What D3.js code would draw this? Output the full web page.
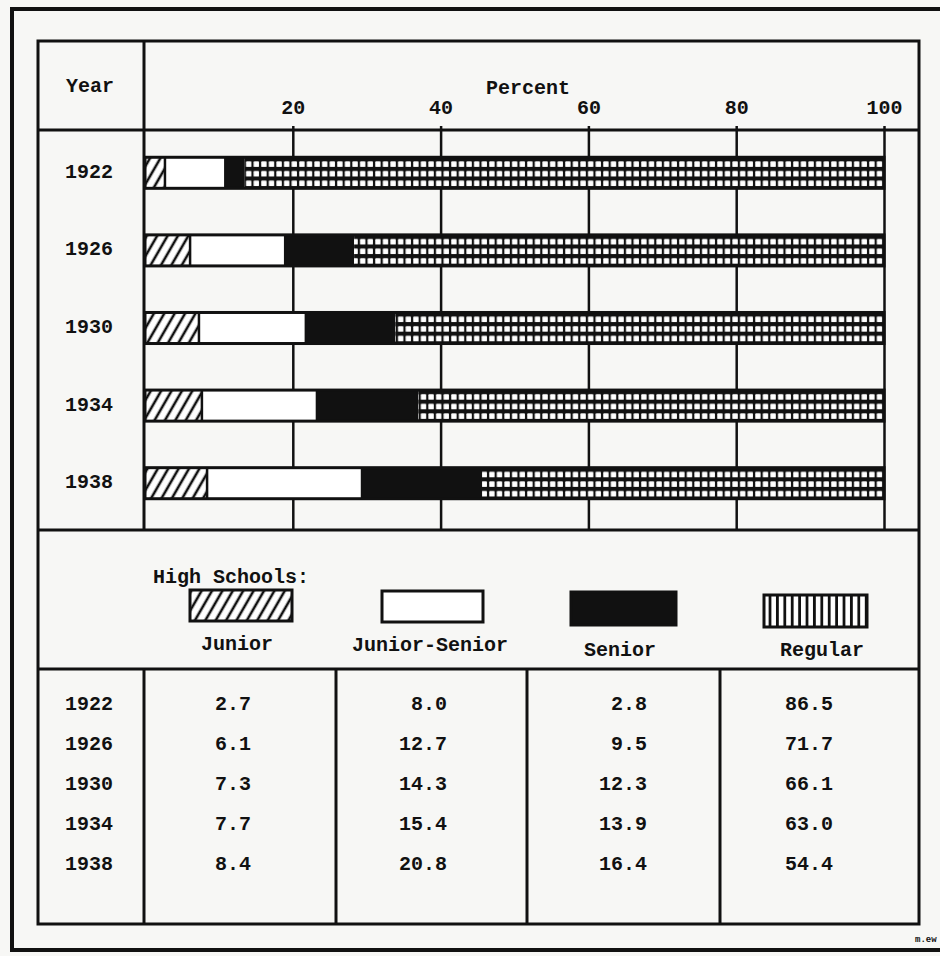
<!DOCTYPE html>
<html><head><meta charset="utf-8">
<script src="https://cdn.jsdelivr.net/npm/d3@7"></script>
<style>
html,body{margin:0;padding:0;background:#f7f7f5;}
svg{display:block;}
text{font-family:"Liberation Mono","DejaVu Sans Mono",monospace;font-weight:bold;fill:#111;}
</style></head><body>
<svg id="c" width="940" height="956"></svg>
<script>
const years = ["1922","1926","1930","1934","1938"];
const categories = ["Junior","Junior-Senior","Senior","Regular"];
const junior = [2.7, 6.1, 7.3, 7.7, 8.4];
const juniorSenior = [8.0, 12.7, 14.3, 15.4, 20.8];
const senior = [2.8, 9.5, 12.3, 13.9, 16.4];
const regular = [86.5, 71.7, 66.1, 63.0, 54.4];
const tickValues = [20, 40, 60, 80, 100];
const tableLabels = [
  ["2.7","8.0","2.8","86.5"],
  ["6.1","12.7","9.5","71.7"],
  ["7.3","14.3","12.3","66.1"],
  ["7.7","15.4","13.9","63.0"],
  ["8.4","20.8","16.4","54.4"]
];

const svg = d3.select("#c");
const ink = "#111";
const FS = 20;
const defs = svg.append("defs");

// hatch pattern (Junior)
const hatch = defs.append("pattern").attr("id","hatch").attr("patternUnits","userSpaceOnUse")
  .attr("width",9).attr("height",9).attr("patternTransform","rotate(30)");
hatch.append("rect").attr("width",9).attr("height",9).attr("fill","#fff");
hatch.append("line").attr("x1",2).attr("x2",2).attr("y1",-1).attr("y2",10).attr("stroke",ink).attr("stroke-width",2.6);

// vertical stripes (legend Regular)
const vs = defs.append("pattern").attr("id","vstripe").attr("patternUnits","userSpaceOnUse")
  .attr("width",7.4).attr("height",10).attr("x",764);
vs.append("rect").attr("width",7.4).attr("height",10).attr("fill","#fff");
vs.append("rect").attr("x",4.6).attr("width",2.8).attr("height",10).attr("fill",ink);

const x = d3.scaleLinear().domain([0,100]).range([145,884]);
const y = d3.scaleBand().domain(years).range([134,522]).paddingInner(0.6).paddingOuter(0.3);

// grid patterns per bar (Regular)
years.forEach(yr=>{
  const p = defs.append("pattern").attr("id","grid"+yr).attr("patternUnits","userSpaceOnUse")
    .attr("width",7.6).attr("height",9.6).attr("x",x(0)+1).attr("y",y(yr));
  p.append("rect").attr("width",7.6).attr("height",9.6).attr("fill",ink);
  p.append("rect").attr("x",1.2).attr("y",4.2).attr("width",5.4).attr("height",5.4).attr("rx",0.8).attr("fill","#fff");
});

// outer border
svg.append("rect").attr("x",12).attr("y",9).attr("width",940).attr("height",941)
  .attr("fill","none").attr("stroke",ink).attr("stroke-width",4);

// inner frame
const L=38, T=41, R=919, B=924;
const colX = 144;
svg.append("rect").attr("x",L).attr("y",T).attr("width",R-L).attr("height",B-T)
  .attr("fill","none").attr("stroke",ink).attr("stroke-width",3);
const hline = (y0)=>svg.append("line").attr("x1",L).attr("x2",R).attr("y1",y0).attr("y2",y0).attr("stroke",ink).attr("stroke-width",3);
hline(130); hline(530); hline(669);
svg.append("line").attr("x1",colX).attr("x2",colX).attr("y1",T).attr("y2",530).attr("stroke",ink).attr("stroke-width",3);

// header text
svg.append("text").attr("x",66).attr("y",92).attr("font-size",FS).text("Year");
svg.append("text").attr("x",528).attr("y",94).attr("text-anchor","middle").attr("font-size",FS).text("Percent");

// axis (top) with gridlines
const axis = d3.axisTop(x).tickValues(tickValues).tickSize(4).tickFormat(d3.format("d"));
const ag = svg.append("g").attr("transform","translate(0,130)").call(axis);
ag.select(".domain").remove();
ag.selectAll(".tick line").attr("stroke",ink).attr("stroke-width",2.5);
ag.selectAll(".tick text").attr("y",-16).attr("font-size",FS).attr("font-family",null)
  .style("font-family","'Liberation Mono',monospace").style("font-weight","bold").attr("fill",ink);

const grid = d3.axisBottom(x).tickValues(tickValues).tickSize(400).tickFormat("");
const gg = svg.append("g").attr("transform","translate(0,130)").call(grid);
gg.select(".domain").remove();
gg.selectAll(".tick line").attr("stroke",ink).attr("stroke-width",2.5);

// year labels
svg.append("g").selectAll("text").data(years).join("text")
  .attr("x",89).attr("y",d=>y(d)+y.bandwidth()/2+5).attr("text-anchor","middle").attr("font-size",FS).text(d=>d);

// stacked bars
const series = [junior, juniorSenior, senior, regular];
const fills = ["url(#hatch)","#fff",ink,null];
years.forEach((yr,i)=>{
  let acc = 0;
  const g = svg.append("g");
  series.forEach((s,k)=>{
    const v = s[i];
    g.append("rect").attr("x",x(acc)).attr("y",y(yr)).attr("width",x(acc+v)-x(acc)).attr("height",y.bandwidth())
      .attr("fill", k===3 ? "url(#grid"+yr+")" : fills[k]).attr("stroke","none");
    acc += v;
  });
  g.append("rect").attr("x",x(0)).attr("y",y(yr)).attr("width",x(100)-x(0)).attr("height",y.bandwidth())
    .attr("fill","none").attr("stroke",ink).attr("stroke-width",3);
  g.append("line").attr("x1",x(junior[i])).attr("x2",x(junior[i])).attr("y1",y(yr)).attr("y2",y(yr)+y.bandwidth())
    .attr("stroke",ink).attr("stroke-width",2.5);
});

// legend
svg.append("text").attr("x",153).attr("y",583).attr("font-size",FS).text("High Schools:");
const legBoxes = [
  {x:190,y:590,w:102,h:31,fill:"url(#hatch)"},
  {x:382,y:591,w:101,h:31,fill:"#fff"},
  {x:571,y:592,w:105,h:33,fill:ink},
  {x:764,y:595,w:103,h:32,fill:"url(#vstripe)"}
];
const legLabelX = [237, 430, 620, 822];
const legLabelY = [650, 651, 656, 656];
svg.append("g").selectAll("rect").data(categories).join("rect")
  .attr("x",(d,i)=>legBoxes[i].x).attr("y",(d,i)=>legBoxes[i].y)
  .attr("width",(d,i)=>legBoxes[i].w).attr("height",(d,i)=>legBoxes[i].h)
  .attr("fill",(d,i)=>legBoxes[i].fill).attr("stroke",ink).attr("stroke-width",3);
svg.append("g").selectAll("text").data(categories).join("text")
  .attr("x",(d,i)=>legLabelX[i]).attr("y",(d,i)=>legLabelY[i]).attr("text-anchor","middle").attr("font-size",FS).text(d=>d);

// table
const tCols = [144, 336, 527, 720];
tCols.forEach(cx=>svg.append("line").attr("x1",cx).attr("x2",cx).attr("y1",669).attr("y2",B).attr("stroke",ink).attr("stroke-width",3));
const ty = d3.scalePoint().domain(years).range([710, 870]);
const numRight = [251, 447, 647, 833];
svg.append("g").selectAll("text").data(years).join("text")
  .attr("x",89).attr("y",d=>ty(d)).attr("text-anchor","middle").attr("font-size",FS).text(d=>d);
years.forEach((yr,i)=>{
  tableLabels[i].forEach((t,k)=>{
    svg.append("text").attr("x",numRight[k]).attr("y",ty(yr)).attr("text-anchor","end").attr("font-size",FS).text(t);
  });
});

// maker's mark
svg.append("text").attr("x",915).attr("y",942).attr("font-size",9).text("m.ew");
</script>
</body></html>
